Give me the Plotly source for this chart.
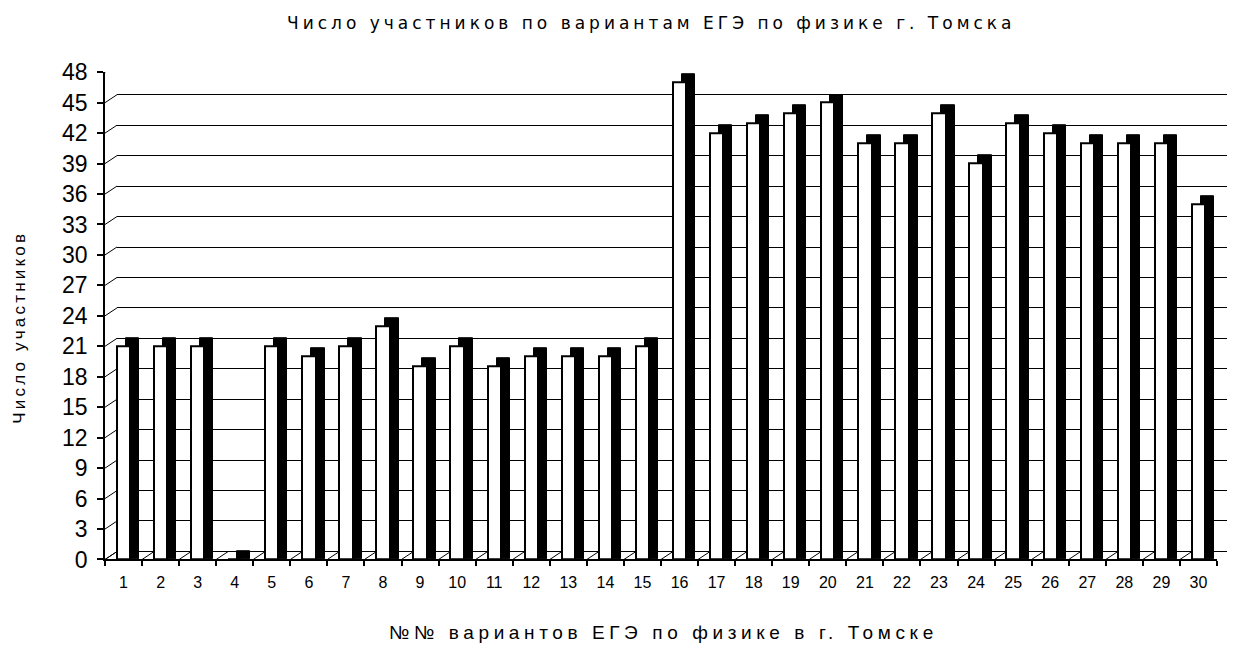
import plotly.graph_objects as go

W, H = 1235, 649

variants = [str(i) for i in range(1, 31)]
participants = [21, 21, 21, 0, 21, 20, 21, 23, 19, 21, 19, 20, 20, 20, 21,
                47, 42, 43, 44, 45, 41, 41, 44, 39, 43, 42, 41, 41, 41, 35]
y_ticks = list(range(0, 49, 3))

title_text = "Число участников по вариантам ЕГЭ по физике г. Томска"
x_title = "№№ вариантов ЕГЭ по физике в г. Томске"
y_title = "Число участников"

# calibration of page placement (pixel -> paper fraction)
OX, OY, SY = 8.0, 19.5, 626.5


def px(x):
    return (x - OX) / W


def py(y):
    return 1 - (y - OY) / SY


# geometry (reference pixels)
front_x0, front_x1 = 105, 1217
front_y0, front_y1 = 561, 71      # value 0, value 48 (from top)
dx, dy = 12, 8                    # depth offset of back wall
depth_units = dy * 48 / (front_y0 - front_y1)
cat_px = (front_x1 - front_x0) / 30
bar_w = 0.36
shadow_shift = 9 / cat_px

fig = go.Figure()

# back wall gridlines (subplot 1)
fig.add_trace(go.Scatter(x=[0], y=[0], mode="markers", marker=dict(opacity=0),
                         hoverinfo="skip", showlegend=False, xaxis="x", yaxis="y"))

# shadow (depth) of bars
fig.add_trace(go.Bar(
    x=variants, y=[v + depth_units for v in participants],
    width=bar_w, offset=-bar_w / 2 + shadow_shift,
    marker=dict(color="black", line=dict(color="black", width=1)),
    xaxis="x2", yaxis="y2", showlegend=False, hoverinfo="skip"))

# front faces
fig.add_trace(go.Bar(
    x=variants, y=participants,
    width=bar_w, offset=-bar_w / 2,
    marker=dict(color="white", line=dict(color="black", width=2)),
    xaxis="x2", yaxis="y2", showlegend=False))

shapes = []
# connectors from front axis ticks to back wall
for v in y_ticks:
    shapes.append(dict(type="line", xref="paper", yref="y2",
                       x0=px(front_x0), x1=px(front_x0 + dx),
                       y0=v, y1=v + depth_units,
                       line=dict(color="black", width=1), layer="below"))
# floor depth lines at category boundaries
for i in range(len(variants) + 1):
    shapes.append(dict(type="line", xref="x2", yref="y2",
                       x0=i - 0.5, x1=i - 0.5 + dx / cat_px,
                       y0=0, y1=depth_units,
                       line=dict(color="black", width=1), layer="below"))

ls = "letter-spacing:{}px"

fig.update_layout(
    width=W, height=H,
    margin=dict(l=0, r=0, t=0, b=0),
    paper_bgcolor="white", plot_bgcolor="rgba(0,0,0,0)",
    barmode="overlay", bargap=0,
    font=dict(family="Liberation Sans, Arial, sans-serif", color="black"),
    xaxis=dict(domain=[px(front_x0 + dx), min(1.0, px(1232))], range=[0, 1],
               showgrid=False, zeroline=False, showticklabels=False,
               showline=False, ticks=""),
    yaxis=dict(domain=[py(front_y0 - dy), py(front_y1 - dy)],
               range=[-0.02, 48.02], dtick=3, tick0=0, showgrid=True,
               gridcolor="black", gridwidth=1, zeroline=True,
               zerolinecolor="black", zerolinewidth=1,
               showticklabels=False, showline=False, ticks=""),
    xaxis2=dict(domain=[px(front_x0), px(front_x1)], anchor="y2",
                type="category", range=[-0.5, 29.5],
                tickson="boundaries", ticks="outside", ticklen=5,
                tickcolor="black", tickwidth=1.5,
                showline=True, linecolor="black", linewidth=1.5,
                showgrid=False, zeroline=False,
                tickfont=dict(size=16, family="Liberation Sans"),
                ticklabelstandoff=8),
    yaxis2=dict(domain=[py(front_y0), py(front_y1)], anchor="x2",
                range=[0, 48], tickvals=y_ticks,
                ticks="outside", ticklen=6, tickcolor="black", tickwidth=1.5,
                showline=True, linecolor="black", linewidth=1.5,
                showgrid=False, zeroline=False,
                tickfont=dict(size=23, family="Liberation Sans"),
                ticklabelstandoff=5),
    shapes=shapes,
    annotations=[
        dict(text=f'<span style="{ls.format(4)}">{title_text}</span>',
             xref="paper", yref="paper", x=px(651), y=py(22),
             showarrow=False, font=dict(size=17, family="DejaVu Sans"),
             xanchor="center", yanchor="middle"),
        dict(text=f'<span style="{ls.format(4.6)}">{x_title}</span>',
             xref="paper", yref="paper", x=px(663), y=py(634),
             showarrow=False, font=dict(size=19, family="Liberation Sans"),
             xanchor="center", yanchor="middle"),
        dict(text=f'<span style="{ls.format(3.2)}">{y_title}</span>',
             xref="paper", yref="paper", x=px(20), y=py(328),
             showarrow=False, textangle=-90,
             font=dict(size=17, family="Liberation Sans"),
             xanchor="center", yanchor="middle"),
    ],
)

fig.write_html("out.html")
